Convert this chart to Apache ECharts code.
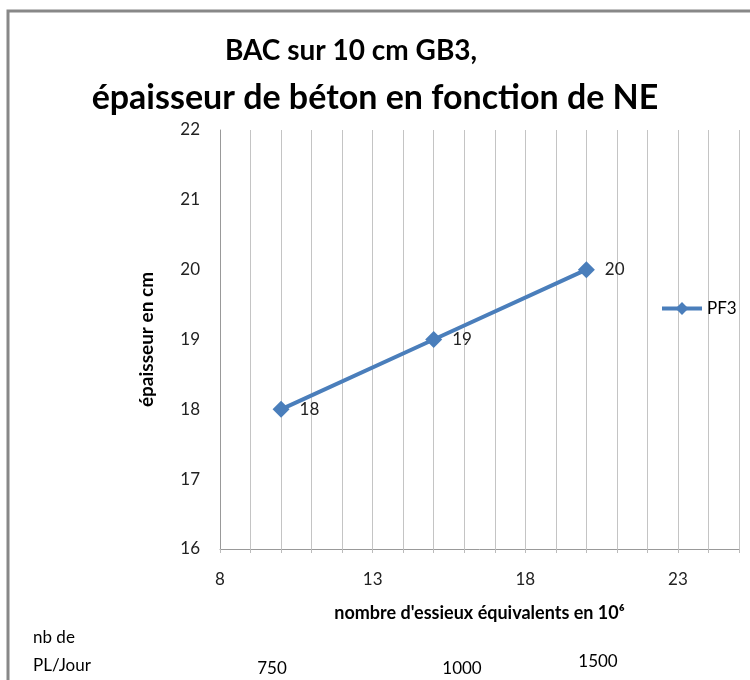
<!DOCTYPE html>
<html>
<head>
<meta charset="utf-8">
<script src="https://cdn.jsdelivr.net/npm/echarts@6/dist/echarts.min.js"></script>
<style>
  html, body { margin: 0; padding: 0; background: #fff; }
  #chart { width: 750px; height: 680px; }
</style>
</head>
<body>
<div id="chart"></div>
<script>
// donnees
var seriesName = "PF3";
var essieux = [10, 15, 20];          // NE en 10^6
var epaisseur = [18, 19, 20];        // cm
var plJour = ["750", "1000", "1500"];

var points = essieux.map(function(x, i) {
  return [x, epaisseur[i]];
});

var font = "Lato, 'Open Sans', sans-serif";
var chart = echarts.init(document.getElementById("chart"));

chart.setOption({
  animation: false,
  title: [
    {
      text: "BAC sur 10 cm GB3,",
      left: 346,
      top: 32,
      textAlign: "center",
      textStyle: { fontFamily: font, fontSize: 28, fontWeight: "bold", color: "#000" }
    },
    {
      text: "épaisseur de béton en fonction de NE",
      left: 370,
      top: 76,
      textAlign: "center",
      textStyle: { fontFamily: font, fontSize: 34, fontWeight: "bold", color: "#000" }
    }
  ],
  grid: {
    left: 220,
    right: 11,
    top: 130,
    bottom: 131,
    containLabel: false
  },
  legend: {
    data: [{
      name: seriesName,
      lineStyle: { width: 4, color: "#4a7ebb" },
      itemStyle: { color: "#4a7ebb" }
    }],
    left: 655,
    top: 295,
    itemWidth: 40,
    itemHeight: 16,
    itemGap: 4,
    textStyle: { fontFamily: font, fontSize: 17, color: "#000" }
  },
  xAxis: {
    type: "value",
    min: 8,
    max: 25,
    interval: 1,
    name: "nombre d'essieux équivalents en 10⁶",
    nameLocation: "middle",
    nameGap: 55,
    nameTextStyle: { fontFamily: font, fontSize: 18, fontWeight: "bold", color: "#000" },
    axisLine: { show: true, lineStyle: { color: "#999", width: 1 } },
    axisTick: { show: true, length: 4, lineStyle: { color: "#bbb" } },
    axisLabel: {
      fontFamily: font,
      fontSize: 17,
      color: "#222",
      margin: 22,
      formatter: function(v) {
        return (v - 8) % 5 === 0 ? String(v) : "";
      }
    },
    splitLine: { show: true, lineStyle: { color: "#c4c4c4", width: 1 } }
  },
  yAxis: {
    type: "value",
    min: 16,
    max: 22,
    interval: 1,
    name: "épaisseur en cm",
    nameLocation: "middle",
    nameGap: 64,
    nameTextStyle: { fontFamily: font, fontSize: 19, fontWeight: "bold", color: "#000" },
    axisLine: { show: true, lineStyle: { color: "#999", width: 1 } },
    axisTick: { show: false },
    axisLabel: { fontFamily: font, fontSize: 17, color: "#222", margin: 20 },
    splitLine: { show: false }
  },
  series: [
    {
      name: seriesName,
      type: "line",
      data: points,
      symbol: "diamond",
      symbolSize: 17,
      lineStyle: { color: "#4a7ebb", width: 4 },
      itemStyle: { color: "#4a7ebb" },
      label: {
        show: true,
        position: "right",
        distance: 10,
        fontFamily: font,
        fontSize: 17,
        color: "#222",
        formatter: function(p) { return p.value[1]; }
      }
    }
  ],
  graphic: [
    {
      type: "rect",
      shape: { x: 8, y: 11, width: 760, height: 700 },
      style: { fill: null, stroke: "#888", lineWidth: 3 },
      silent: true
    },
    {
      type: "text",
      left: 33,
      top: 629,
      style: { text: "nb de", fontFamily: font, fontSize: 17, fill: "#000" }
    },
    {
      type: "text",
      left: 33,
      top: 657,
      style: { text: "PL/Jour", fontFamily: font, fontSize: 17, fill: "#000" }
    },
    {
      type: "text",
      x: 272,
      y: 669,
      style: { text: plJour[0], fontFamily: font, fontSize: 17, fill: "#000", align: "center", verticalAlign: "middle" }
    },
    {
      type: "text",
      x: 462,
      y: 669,
      style: { text: plJour[1], fontFamily: font, fontSize: 17, fill: "#000", align: "center", verticalAlign: "middle" }
    },
    {
      type: "text",
      x: 598,
      y: 662,
      style: { text: plJour[2], fontFamily: font, fontSize: 17, fill: "#000", align: "center", verticalAlign: "middle" }
    }
  ]
});
</script>
</body>
</html>
